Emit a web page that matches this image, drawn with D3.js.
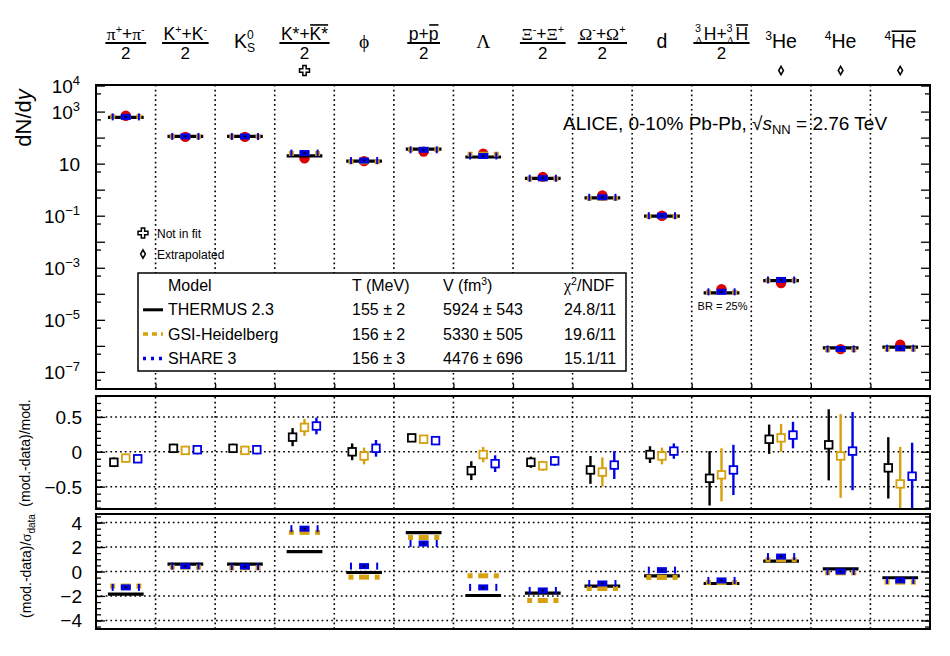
<!DOCTYPE html>
<html>
<head>
<meta charset="utf-8">
<script src="https://cdn.jsdelivr.net/npm/d3@7"></script>
<style>
  body { margin: 0; background: #fff; }
  text { font-family: "Liberation Sans", Arial, Helvetica, sans-serif; fill: #000; }
</style>
</head>
<body>
<div id="vis_container"></div>
<script>
// ---- values ----
var categories = ["pi", "K", "K0S", "Kstar", "phi", "p", "Lambda", "Xi", "Omega", "d", "H3L", "He3", "He4", "He4bar"];

// measured yields (red points), 0-10% Pb-Pb
var dataYield = [690, 107, 107, 16, 12.5, 29, 24, 3.1, 0.6, 0.1, 1.5e-4, 2.6e-4, 7.5e-7, 1.1e-6];

// model yields (top panel lines)
var thermusYield = [600, 112, 112, 20, 12.5, 36, 18, 2.7, 0.48, 0.096, 1.09e-4, 3.2e-4, 8.3e-7, 8.9e-7];
var gsiYield     = [640, 110, 109, 24.5, 11.8, 35, 23, 2.6, 0.47, 0.094, 1.13e-4, 3.25e-4, 7.1e-7, 7.5e-7];
var shareYield   = [625, 111, 110, 25.5, 13.1, 34, 19.7, 2.75, 0.51, 0.1, 1.19e-4, 3.4e-4, 7.6e-7, 8.1e-7];

// (mod.-data)/mod. and its error
var thermusRatio    = [-0.15, 0.05, 0.05, 0.21, 0.0, 0.2, -0.27, -0.15, -0.26, -0.04, -0.38, 0.18, 0.1, -0.23];
var thermusRatioErr = [0.07, 0.065, 0.065, 0.13, 0.12, 0.04, 0.135, 0.08, 0.2, 0.12, 0.39, 0.21, 0.51, 0.44];
var gsiRatio        = [-0.09, 0.02, 0.02, 0.35, -0.06, 0.18, -0.04, -0.2, -0.29, -0.06, -0.33, 0.2, -0.06, -0.46];
var gsiRatioErr     = [0.06, 0.065, 0.065, 0.12, 0.12, 0.04, 0.11, 0.07, 0.21, 0.12, 0.38, 0.2, 0.6, 0.53];
var shareRatio      = [-0.1, 0.03, 0.03, 0.37, 0.05, 0.16, -0.17, -0.13, -0.19, 0.01, -0.26, 0.24, 0.01, -0.35];
var shareRatioErr   = [0.06, 0.065, 0.065, 0.12, 0.12, 0.04, 0.12, 0.07, 0.2, 0.11, 0.36, 0.19, 0.56, 0.48];

// (mod.-data)/sigma_data
var thermusDev = [-1.85, 0.6, 0.6, 1.63, -0.08, 3.18, -1.96, -1.77, -1.19, -0.35, -0.98, 0.85, 0.22, -0.51];
var gsiDev     = [-1.19, 0.36, 0.3, 3.2, -0.46, 2.78, -0.35, -2.37, -1.39, -0.49, -0.9, 0.96, -0.11, -0.87];
var shareDev   = [-1.3, 0.44, 0.4, 3.5, 0.44, 2.29, -1.3, -1.55, -0.98, 0.11, -0.73, 1.22, 0.0, -0.73];

var notInFit = ["Kstar"];
var extrapolated = ["He3", "He4", "He4bar"];

var yieldTicks = [1e4, 1e3, 10, 1e-1, 1e-3, 1e-5, 1e-7];
var ratioTicks = [-0.5, 0, 0.5];
var devTicks = [-4, -2, 0, 2, 4];

var legendNames = ["THERMUS 2.3", "GSI-Heidelberg", "SHARE 3"];
var legendT = ["155 \u00b1 2", "156 \u00b1 2", "156 \u00b1 3"];
var legendV = ["5924 \u00b1 543", "5330 \u00b1 505", "4476 \u00b1 696"];
var legendChi2 = ["24.8/11", "19.6/11", "15.1/11"];

var SERIF = "'Liberation Serif', 'DejaVu Serif', serif";
// column headers: pieces of rich text
var headerLabels = [
  {frac: true, parts: [{t: "\u03c0", f: SERIF}, {t: "+", k: "sup"}, {t: "+"}, {t: "\u03c0", f: SERIF}, {t: "-", k: "sup"}]},
  {frac: true, parts: [{t: "K"}, {t: "+", k: "sup"}, {t: "+"}, {t: "K"}, {t: "-", k: "sup"}]},
  {frac: false, parts: [{t: "K"}, {k: "stack", t: "0", s: "S"}]},
  {frac: true, parts: [{t: "K*"}, {t: "+"}, {t: "K*", ov: true}]},
  {frac: false, parts: [{t: "\u03d5", f: SERIF}]},
  {frac: true, parts: [{t: "p"}, {t: "+"}, {t: "p", ov: true}]},
  {frac: false, parts: [{t: "\u039b", f: SERIF}]},
  {frac: true, parts: [{t: "\u039e", f: SERIF}, {t: "-", k: "sup"}, {t: "+"}, {t: "\u039e", f: SERIF}, {t: "+", k: "sup"}]},
  {frac: true, parts: [{t: "\u03a9", f: SERIF}, {t: "-", k: "sup"}, {t: "+"}, {t: "\u03a9", f: SERIF}, {t: "+", k: "sup"}]},
  {frac: false, parts: [{t: "d"}]},
  {frac: true, parts: [{k: "stack", t: "3", s: "\u039b", sf: SERIF}, {t: "H+"}, {k: "stack", t: "3", s: "\u039b", sf: SERIF}, {t: "H", ov: true}]},
  {frac: false, parts: [{t: "3", k: "sup"}, {t: "He"}]},
  {frac: false, parts: [{t: "4", k: "sup"}, {t: "He"}]},
  {frac: false, parts: [{t: "4", k: "sup"}, {t: "He", ov: true}]}
];

// ---- canvas ----
var width = 950;
var height = 656;
var left = 96, right = 930;
var gold = "#d6a10c";
var blue = "#0000e6";
var red = "#dd0000";

var svg = d3.select("#vis_container")
    .append("svg")
    .attr("width", width)
    .attr("height", height);

var x = d3.scaleLinear().domain([0, categories.length]).range([left, right]);
var yTop = d3.scaleLog().domain([2.2e-8, 1.05e4]).range([389, 85]);
var yMid = d3.scaleLinear().domain([-0.82, 0.8]).range([509, 396]).clamp(true);
var yBot = d3.scaleLinear().domain([-4.7, 4.7]).range([629, 514]);

var panels = [yTop, yMid, yBot];

// dotted column separators and grid
panels.forEach(function (y) {
  var r = y.range();
  svg.append("g").selectAll("line")
    .data(d3.range(1, categories.length))
    .enter().append("line")
    .attr("x1", function (k) { return x(k); })
    .attr("x2", function (k) { return x(k); })
    .attr("y1", r[0]).attr("y2", r[1])
    .attr("stroke", "#000").attr("stroke-width", 1.6)
    .attr("stroke-dasharray", "1.7,3.1");
});
[[yMid, ratioTicks], [yBot, devTicks]].forEach(function (p) {
  svg.append("g").selectAll("line")
    .data(p[1])
    .enter().append("line")
    .attr("x1", left).attr("x2", right)
    .attr("y1", function (d) { return p[0](d); })
    .attr("y2", function (d) { return p[0](d); })
    .attr("stroke", "#000").attr("stroke-width", 1.6)
    .attr("stroke-dasharray", "1.7,3.1");
});

// ---- y axes (ticks inside on both sides) ----
function ticksBoth(y, major, minor) {
  [[d3.axisRight, left], [d3.axisLeft, right]].forEach(function (a) {
    svg.append("g")
      .attr("transform", "translate(" + a[1] + ",0)")
      .call(a[0](y).tickValues(major).tickSize(9).tickFormat(""))
      .call(function (g) { g.select(".domain").remove(); })
      .selectAll("line").attr("stroke-width", 1.3);
    svg.append("g")
      .attr("transform", "translate(" + a[1] + ",0)")
      .call(a[0](y).tickValues(minor).tickSize(5).tickFormat(""))
      .call(function (g) { g.select(".domain").remove(); })
      .selectAll("line").attr("stroke-width", 1.3);
  });
}
var logMajor = d3.range(-7, 5).map(function (n) { return Math.pow(10, n); });
var logMinor = d3.range(-8, 4).map(function (n) { return 5 * Math.pow(10, n); });
ticksBoth(yTop, logMajor, logMinor);
ticksBoth(yMid, ratioTicks, d3.range(-8, 9).map(function (n) { return n / 10; }));
ticksBoth(yBot, devTicks, d3.range(-9, 10).map(function (n) { return n / 2; }));

// x ticks on the bottom edge of the upper panel
svg.append("g")
  .attr("transform", "translate(0,389)")
  .call(d3.axisTop(x).tickValues(d3.range(1, categories.length)).tickSize(5).tickFormat(""))
  .call(function (g) { g.select(".domain").remove(); })
  .selectAll("line").attr("stroke-width", 1.3);

// tick labels
svg.append("g").selectAll("text")
  .data(yieldTicks)
  .enter().append("text")
  .attr("x", 80)
  .attr("y", function (d) { return yTop(d) + 7; })
  .attr("text-anchor", "end")
  .style("font-size", "19px")
  .each(function (d) {
    var e = Math.round(Math.log10(d));
    var t = d3.select(this);
    t.append("tspan").text("10");
    if (e !== 1) {
      t.append("tspan").attr("dy", -8).style("font-size", "13px")
        .text(e < 0 ? "\u2212" + (-e) : e);
    }
  });
svg.append("g").selectAll("text")
  .data(ratioTicks)
  .enter().append("text")
  .attr("x", 82)
  .attr("y", function (d) { return yMid(d) + 7; })
  .attr("text-anchor", "end")
  .style("font-size", "19px")
  .text(function (d) { return d < 0 ? "\u2212" + (-d) : d; });
svg.append("g").selectAll("text")
  .data(devTicks)
  .enter().append("text")
  .attr("x", 82)
  .attr("y", function (d) { return yBot(d) + 7; })
  .attr("text-anchor", "end")
  .style("font-size", "19px")
  .text(function (d) { return d < 0 ? "\u2212" + (-d) : d; });

// axis titles
var t1 = svg.append("text")
  .attr("transform", "translate(31,118) rotate(-90)")
  .attr("text-anchor", "middle")
  .style("font-size", "22px");
t1.append("tspan").text("dN/d");
t1.append("tspan").style("font-style", "italic").text("y");

svg.append("text")
  .attr("transform", "translate(30,453) rotate(-90)")
  .attr("text-anchor", "middle")
  .style("font-size", "14px")
  .text("(mod.-data)/mod.");

var t3 = svg.append("text")
  .attr("transform", "translate(31,566) rotate(-90)")
  .attr("text-anchor", "middle")
  .style("font-size", "14px");
t3.append("tspan").text("(mod.-data)/");
t3.append("tspan").style("font-family", SERIF).style("font-size", "15px").text("\u03c3");
t3.append("tspan").attr("dy", 4).style("font-size", "10px").text("data");

// ---- model line markers (top and bottom panels) ----
function drawModelLines(g, y, tVals, gVals, sVals) {
  var cols = d3.range(categories.length);
  // THERMUS: solid black
  g.append("g").selectAll("line").data(cols).enter().append("line")
    .attr("x1", function (i) { return x(i + 0.2); })
    .attr("x2", function (i) { return x(i + 0.8); })
    .attr("y1", function (i) { return y(tVals[i]); })
    .attr("y2", function (i) { return y(tVals[i]); })
    .attr("stroke", "#000").attr("stroke-width", 3.2);
  // GSI dashed gold and SHARE dotted blue, as their visible pieces
  var gsiPieces = [];
  var shPieces = [];
  cols.forEach(function (i) {
    [0.28, 0.72].forEach(function (f) {
      gsiPieces.push({x: i + f, v: gVals[i], w: 5, h: 5});
      shPieces.push({x: i + f, v: sVals[i], w: 2, h: 7});
    });
    gsiPieces.push({x: i + 0.5, v: gVals[i], w: 10, h: 5});
    shPieces.push({x: i + 0.5, v: sVals[i], w: 10, h: 6});
  });
  g.append("g").selectAll("rect").data(gsiPieces).enter().append("rect")
    .attr("x", function (d) { return x(d.x) - d.w / 2; })
    .attr("y", function (d) { return y(d.v) - d.h / 2; })
    .attr("width", function (d) { return d.w; })
    .attr("height", function (d) { return d.h; })
    .attr("fill", gold);
  g.append("g").selectAll("rect").data(shPieces).enter().append("rect")
    .attr("x", function (d) { return x(d.x) - d.w / 2; })
    .attr("y", function (d) { return y(d.v) - d.h / 2; })
    .attr("width", function (d) { return d.w; })
    .attr("height", function (d) { return d.h; })
    .attr("fill", blue);
  g.append("g").selectAll("rect").data(cols).enter().append("rect")
    .attr("x", function (i) { return x(i + 0.5) - 1; })
    .attr("y", function (i) { return y(sVals[i]) - 1; })
    .attr("width", 2).attr("height", 2)
    .attr("fill", "#000");
}

// ---- top panel ----
var gTop = svg.append("g");
gTop.selectAll("circle").data(dataYield).enter().append("circle")
  .attr("cx", function (d, i) { return x(i + 0.5); })
  .attr("cy", function (d) { return yTop(d); })
  .attr("r", 5.2)
  .attr("fill", red);
drawModelLines(gTop, yTop, thermusYield, gsiYield, shareYield);

// ---- ratio panel ----
var gMid = svg.append("g");
var ratioModels = [
  {vals: thermusRatio, err: thermusRatioErr, color: "#000", off: 0.3},
  {vals: gsiRatio, err: gsiRatioErr, color: gold, off: 0.5},
  {vals: shareRatio, err: shareRatioErr, color: blue, off: 0.7}
];
ratioModels.forEach(function (m) {
  var gg = gMid.append("g");
  gg.selectAll("line").data(m.vals).enter().append("line")
    .attr("x1", function (d, i) { return x(i + m.off); })
    .attr("x2", function (d, i) { return x(i + m.off); })
    .attr("y1", function (d, i) { return yMid(d - m.err[i]); })
    .attr("y2", function (d, i) { return yMid(d + m.err[i]); })
    .attr("stroke", m.color).attr("stroke-width", 2.4);
  gg.selectAll("rect").data(m.vals).enter().append("rect")
    .attr("x", function (d, i) { return x(i + m.off) - 3.8; })
    .attr("y", function (d) { return yMid(d) - 3.8; })
    .attr("width", 7.6).attr("height", 7.6)
    .attr("fill", "#fff")
    .attr("stroke", m.color).attr("stroke-width", 1.8);
});

// ---- deviation panel ----
var gBot = svg.append("g");
drawModelLines(gBot, yBot, thermusDev, gsiDev, shareDev);

// ---- frames ----
panels.forEach(function (y) {
  var r = y.range();
  svg.append("rect")
    .attr("x", left).attr("y", r[1])
    .attr("width", right - left).attr("height", r[0] - r[1])
    .attr("fill", "none").attr("stroke", "#000").attr("stroke-width", 2);
});

// ---- column headers ----
function richText(g, parts, size) {
  var cx = 0;
  parts.forEach(function (p) {
    var small = size * 0.62;
    if (p.k === "stack") {
      var a = g.append("text").attr("x", cx).attr("y", -size * 0.45)
        .style("font-size", small + "px").text(p.t);
      var b = g.append("text").attr("x", cx).attr("y", size * 0.2)
        .style("font-size", small + "px").text(p.s);
      if (p.sf) b.style("font-family", p.sf);
      cx += Math.max(a.node().getComputedTextLength(), b.node().getComputedTextLength()) + 1;
      return;
    }
    var fs = p.k === "sup" ? small : size;
    var dy = p.k === "sup" ? -size * 0.42 : 0;
    var t = g.append("text").attr("x", cx).attr("y", dy)
      .style("font-size", fs + "px").text(p.t);
    if (p.f) t.style("font-family", p.f);
    var w = t.node().getComputedTextLength();
    if (p.ov) {
      g.append("line")
        .attr("x1", cx + 0.5).attr("x2", cx + w)
        .attr("y1", -size * 0.86).attr("y2", -size * 0.86)
        .attr("stroke", "#000").attr("stroke-width", 1.6);
    }
    cx += w;
  });
  return cx;
}

headerLabels.forEach(function (lab, i) {
  var c = x(i + 0.5);
  var g = svg.append("g");
  var size = lab.frac ? 17.5 : 19.5;
  var w = richText(g, lab.parts, size);
  var base = lab.frac ? 40 : 48;
  g.attr("transform", "translate(" + (c - w / 2) + "," + base + ")");
  if (lab.frac) {
    svg.append("line")
      .attr("x1", c - w / 2 - 1.5).attr("x2", c + w / 2 + 1.5)
      .attr("y1", 43).attr("y2", 43)
      .attr("stroke", "#000").attr("stroke-width", 1.8);
    svg.append("text")
      .attr("x", c).attr("y", 58.5)
      .attr("text-anchor", "middle")
      .style("font-size", "17px")
      .text("2");
  }
});

// "not in fit" / "extrapolated" markers
var crossSym = d3.symbol().type(d3.symbolCross).size(55);
var diamondSym = d3.symbol().type(d3.symbolDiamond).size(20);
svg.append("g").selectAll("path")
  .data(notInFit).enter().append("path")
  .attr("transform", function (d) { return "translate(" + x(categories.indexOf(d) + 0.5) + ",70.5)"; })
  .attr("d", crossSym)
  .attr("fill", "none").attr("stroke", "#000").attr("stroke-width", 1.5);
svg.append("g").selectAll("path")
  .data(extrapolated).enter().append("path")
  .attr("transform", function (d) { return "translate(" + x(categories.indexOf(d) + 0.5) + ",70.5)"; })
  .attr("d", diamondSym)
  .attr("fill", "none").attr("stroke", "#000").attr("stroke-width", 1.5);

svg.append("path").attr("transform", "translate(143,233)").attr("d", crossSym)
  .attr("fill", "none").attr("stroke", "#000").attr("stroke-width", 1.5);
svg.append("text").attr("x", 157).attr("y", 237.5).style("font-size", "12px").text("Not in fit");
svg.append("path").attr("transform", "translate(143,254)").attr("d", diamondSym)
  .attr("fill", "none").attr("stroke", "#000").attr("stroke-width", 1.5);
svg.append("text").attr("x", 157).attr("y", 258.5).style("font-size", "12px").text("Extrapolated");

svg.append("text")
  .attr("x", x(categories.indexOf("H3L") + 0.5) + 1)
  .attr("y", 309.5)
  .attr("text-anchor", "middle")
  .style("font-size", "11px")
  .text("BR = 25%");

// ALICE label
var al = svg.append("text").attr("x", 563).attr("y", 130).style("font-size", "19px");
al.append("tspan").text("ALICE, 0-10% Pb-Pb, \u221a");
al.append("tspan").style("font-style", "italic").text("s");
al.append("tspan").attr("dy", 4).style("font-size", "13px").text("NN");
al.append("tspan").attr("dy", -4).text(" = 2.76 TeV");

// ---- legend ----
var lg = svg.append("g");
lg.append("rect")
  .attr("x", 138).attr("y", 273).attr("width", 488).attr("height", 98)
  .attr("fill", "#fff").attr("stroke", "#000").attr("stroke-width", 1.5);
var rowY = [291, 315.3, 339.6, 364];
var colX = [168, 352, 443, 564];
lg.append("text").attr("x", colX[0]).attr("y", rowY[0]).style("font-size", "16px").text("Model");
lg.append("text").attr("x", colX[1]).attr("y", rowY[0]).style("font-size", "16px").text("T (MeV)");
var vh = lg.append("text").attr("x", colX[2]).attr("y", rowY[0]).style("font-size", "16px");
vh.append("tspan").text("V (fm");
vh.append("tspan").attr("dy", -6).style("font-size", "10.5px").text("3");
vh.append("tspan").attr("dy", 6).text(")");
var ch = lg.append("text").attr("x", colX[3]).attr("y", rowY[0]).style("font-size", "16px");
ch.append("tspan").style("font-family", SERIF).text("\u03c7");
ch.append("tspan").attr("dy", -6).style("font-size", "10.5px").text("2");
ch.append("tspan").attr("dy", 6).text("/NDF");

var sampleStyles = [
  {color: "#000", dash: null, w: 3},
  {color: gold, dash: "5,4", w: 3.5},
  {color: blue, dash: "3,5", w: 3.5}
];
legendNames.forEach(function (name, k) {
  var yy = rowY[k + 1];
  var s = sampleStyles[k];
  lg.append("line")
    .attr("x1", 143).attr("x2", 163)
    .attr("y1", yy - 5.5).attr("y2", yy - 5.5)
    .attr("stroke", s.color).attr("stroke-width", s.w)
    .attr("stroke-dasharray", s.dash);
  lg.append("text").attr("x", colX[0]).attr("y", yy).style("font-size", "16px").text(name);
  lg.append("text").attr("x", colX[1]).attr("y", yy).style("font-size", "16px").text(legendT[k]);
  lg.append("text").attr("x", colX[2]).attr("y", yy).style("font-size", "16px").text(legendV[k]);
  lg.append("text").attr("x", colX[3]).attr("y", yy).style("font-size", "16px").text(legendChi2[k]);
});
</script>
</body>
</html>
